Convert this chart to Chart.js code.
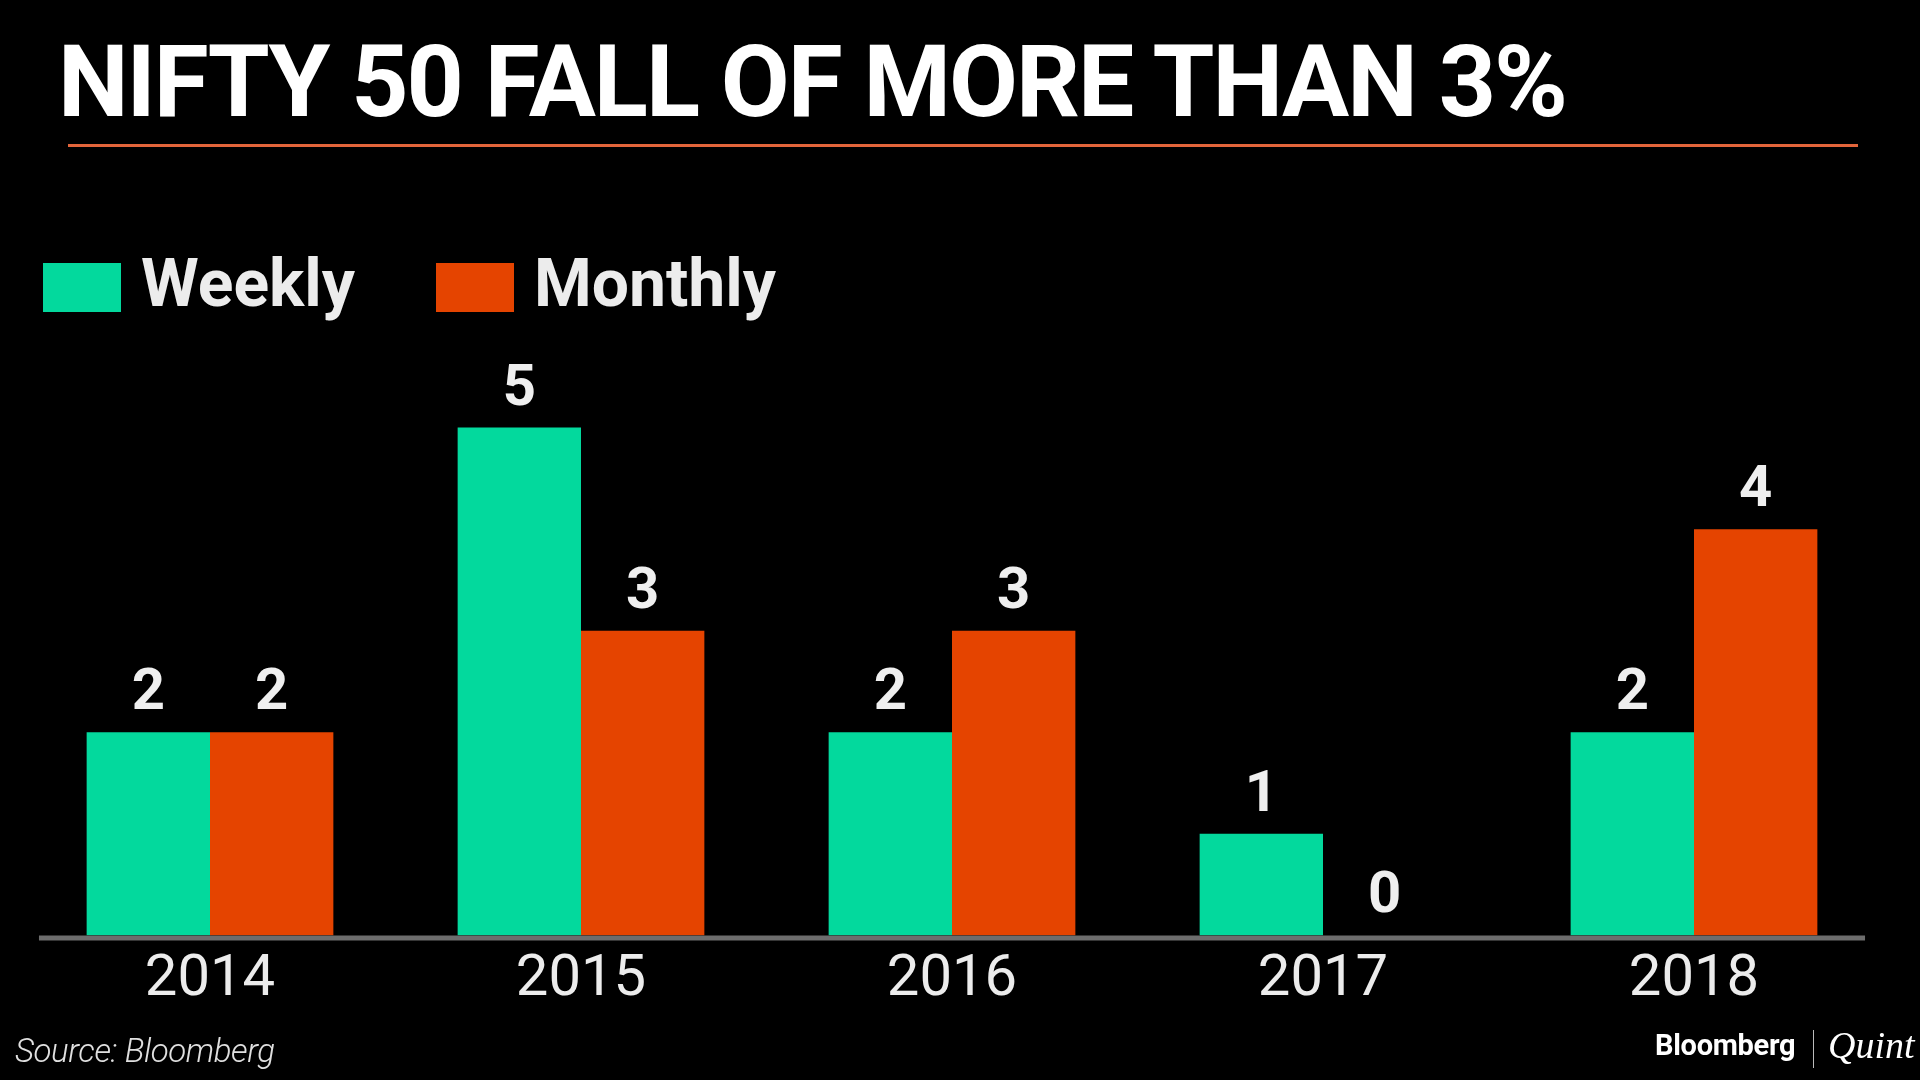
<!DOCTYPE html>
<html>
<head>
<meta charset="utf-8">
<script src="https://cdn.jsdelivr.net/npm/chart.js@4.4.1/dist/chart.umd.min.js"></script>
<style>
  html, body { margin: 0; padding: 0; background: #000; }
  body { width: 1920px; height: 1080px; position: relative; overflow: hidden; font-family: Roboto, "Noto Sans", sans-serif; }
  #chartBox { position: absolute; left: 0; top: 0; width: 1920px; height: 1080px; }
  .abs { position: absolute; white-space: nowrap; line-height: 1; }
  #title { left: 58px; top: 32px; font-size: 100px; font-weight: 700; color: #fff; letter-spacing: -2px; }
  #rule { left: 68px; top: 144px; width: 1790px; height: 3px; background: #e2653b; }
  .swatch { position: absolute; width: 78px; height: 49px; top: 263px; }
  .legtext { font-size: 66px; font-weight: 700; color: #ececec; top: 251px; }
  #source { left: 15px; top: 1034px; font-size: 33px; font-style: italic; font-weight: 300; color: #e0e0e0; letter-spacing: -0.4px; }
  #bbg { left: 1655px; top: 1031px; font-size: 29px; font-weight: 700; color: #fff; letter-spacing: -0.3px; }
  #sep { left: 1813px; top: 1030px; width: 1px; height: 38px; background: #bbb; }
  #quint { left: 1828px; top: 1026px; font-size: 38px; font-style: italic; font-family: "Liberation Serif", "DejaVu Serif", serif; color: #fff; }
</style>
</head>
<body>
<div id="chartBox"><canvas id="fallChart"></canvas></div>
<div id="title" class="abs">NIFTY 50 FALL OF MORE THAN 3%</div>
<div id="rule" class="abs"></div>
<div id="legend"></div>
<div id="source" class="abs">Source: Bloomberg</div>
<div id="bbg" class="abs">Bloomberg</div>
<div id="sep" class="abs"></div>
<div id="quint" class="abs">Quint</div>

<script>
// data
const years = ["2014", "2015", "2016", "2017", "2018"];
const weekly = [2, 5, 2, 1, 2];
const monthly = [2, 3, 3, 0, 4];
const seriesNames = ["Weekly", "Monthly"];
const seriesColors = ["#03d99d", "#e54400"];

// legend (html)
const legendSpots = [[43, 141], [436, 534]];
const leg = document.getElementById("legend");
seriesNames.forEach((name, i) => {
    const sw = document.createElement("div");
    sw.className = "swatch";
    sw.style.left = legendSpots[i][0] + "px";
    sw.style.background = seriesColors[i];
    leg.appendChild(sw);
    const t = document.createElement("div");
    t.className = "abs legtext";
    t.style.left = legendSpots[i][1] + "px";
    t.textContent = name;
    leg.appendChild(t);
});

// numbers on top of bars
const valueLabels = {
    id: "valueLabels",
    afterDatasetsDraw(chart) {
        const ctx = chart.ctx;
        ctx.save();
        ctx.font = "bold 58px Roboto";
        ctx.fillStyle = "#efefef";
        ctx.textAlign = "center";
        ctx.textBaseline = "alphabetic";
        chart.data.datasets.forEach((ds, di) => {
            chart.getDatasetMeta(di).data.forEach((bar, i) => {
                ctx.fillText(String(ds.data[i]), bar.x, bar.y - 23);
            });
        });
        ctx.restore();
    }
};

// grey base line, a bit shorter than the plot area
const baseLine = {
    id: "baseLine",
    afterDatasetsDraw(chart) {
        const x = chart.scales.x, y = chart.scales.y;
        const step = x.getPixelForValue(1) - x.getPixelForValue(0);
        const y0 = y.getPixelForValue(0);
        const ctx = chart.ctx;
        ctx.save();
        ctx.strokeStyle = "#6d6d6d";
        ctx.lineWidth = 5;
        ctx.beginPath();
        ctx.moveTo(x.getPixelForValue(0) - step * 0.461, y0 + 2.5);
        ctx.lineTo(x.getPixelForValue(years.length - 1) + step * 0.461, y0 + 2.5);
        ctx.stroke();
        ctx.restore();
    }
};

new Chart("fallChart", {
    type: "bar",
    data: {
        labels: years,
        datasets: [
            { label: seriesNames[0], data: weekly, backgroundColor: seriesColors[0] },
            { label: seriesNames[1], data: monthly, backgroundColor: seriesColors[1] }
        ]
    },
    options: {
        responsive: true,
        maintainAspectRatio: false,
        animation: false,
        events: [],
        categoryPercentage: 0.665,
        barPercentage: 1,
        layout: { padding: { left: 24.5, right: 40.5, top: 326, bottom: 55 } },
        plugins: { legend: { display: false }, tooltip: { enabled: false } },
        scales: {
            x: {
                grid: { display: false, drawTicks: false },
                border: { display: false },
                ticks: { color: "#ececec", font: { family: "Roboto", size: 58 }, padding: 10 }
            },
            y: {
                display: false,
                min: 0,
                max: 6
            }
        }
    },
    plugins: [valueLabels, baseLine]
});
</script>
</body>
</html>
